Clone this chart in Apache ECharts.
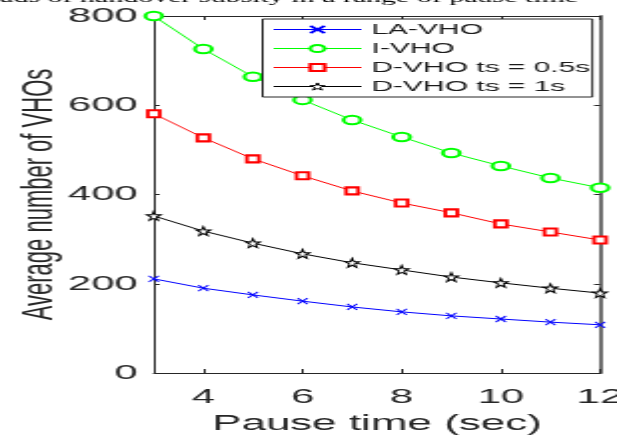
<!DOCTYPE html>
<html>
<head>
<meta charset="utf-8">
<script src="https://cdn.jsdelivr.net/npm/echarts@6/dist/echarts.min.js"></script>
<style>
  html, body { margin: 0; padding: 0; overflow: hidden; background: #fff; }
  /* the source figure is stretched 2x horizontally, so draw at half width and stretch */
  #chart { width: 309px; height: 438px; transform: scaleX(1.9968); transform-origin: 0 0; }
</style>
</head>
<body>
<div id="chart"></div>
<script>
const pauseTime = [3, 4, 5, 6, 7, 8, 9, 10, 11, 12];
const xTicks = [4, 6, 8, 10, 12];
const laVho = [211, 190, 175, 161, 148, 137, 128, 121, 114, 108];
const iVho = [800, 726, 664, 612, 567, 529, 493, 464, 437, 415];
const dVho05 = [581, 527, 480, 442, 408, 381, 359, 334, 316, 298];
const dVho1 = [352, 318, 291, 267, 247, 231, 215, 202, 190, 179];

const crossPath = 'path://M0,0L10,10M10,0L0,10';
const starPath = 'path://M10,0L12.35,6.76L19.51,6.91L13.8,11.24L15.88,18.09L10,14L4.12,18.09L6.2,11.24L0.49,6.91L7.65,6.76Z';
const axisColor = '#262626';

function pairs(ys) {
  return pauseTime.map((x, i) => [x, ys[i]]);
}

const chart = echarts.init(document.getElementById('chart'));
chart.setOption({
  animation: false,
  textStyle: { fontFamily: 'Liberation Sans, Arial, sans-serif' },
  graphic: [{
    type: 'text',
    left: 0,
    top: -9,
    style: {
      text: 'ads of handover subsity in a range of pause time',
      font: '15px "Liberation Serif", serif',
      fill: '#000'
    }
  }],
  grid: { left: 77, right: 8.5, top: 16, bottom: 65, outerBoundsMode: 'none' },
  legend: {
    orient: 'vertical',
    left: 131.5,
    top: 19,
    itemWidth: 44,
    itemHeight: 9,
    itemGap: 0,
    padding: [1, 1, 1, 5],
    backgroundColor: '#fff',
    borderColor: axisColor,
    borderWidth: 1,
    lineStyle: { width: 1 },
    textStyle: { fontSize: 15, color: '#1a1a1a', lineHeight: 19 },
    data: [
      { name: 'LA-VHO' },
      { name: 'I-VHO' },
      { name: 'D-VHO ts = 0.5s' },
      { name: 'D-VHO ts = 1s', itemStyle: { color: '#fff', borderColor: '#000', borderWidth: 1 } }
    ]
  },
  xAxis: [{
    type: 'value',
    min: 3,
    max: 12,
    name: 'Pause time (sec)',
    nameLocation: 'middle',
    nameGap: 32,
    nameTextStyle: { fontSize: 22, color: axisColor },
    axisLine: { show: true, lineStyle: { color: axisColor, width: 1 } },
    axisTick: { show: true, inside: true, length: 4, customValues: xTicks, lineStyle: { color: axisColor } },
    axisLabel: { fontSize: 21, color: axisColor, margin: 14, customValues: xTicks },
    splitLine: { show: false }
  }, {
    type: 'value',
    position: 'top',
    min: 3,
    max: 12,
    axisLine: { show: true, onZero: false, lineStyle: { color: axisColor, width: 1 } },
    axisTick: { show: true, inside: true, length: 4, customValues: xTicks, lineStyle: { color: axisColor } },
    axisLabel: { show: false },
    splitLine: { show: false }
  }],
  yAxis: [{
    type: 'value',
    min: 0,
    max: 800,
    interval: 200,
    name: 'Average number of VHOs',
    nameLocation: 'middle',
    nameRotate: 90,
    nameGap: 46.5,
    nameMoveOverlap: false,
    nameTextStyle: { fontSize: 22, color: axisColor },
    axisLine: { show: true, lineStyle: { color: axisColor, width: 1 } },
    axisTick: { show: true, inside: true, length: 3, lineStyle: { color: axisColor } },
    axisLabel: { fontSize: 21, color: axisColor, margin: 8 },
    splitLine: { show: false }
  }, {
    type: 'value',
    position: 'right',
    min: 0,
    max: 800,
    interval: 200,
    axisLine: { show: true, onZero: false, lineStyle: { color: '#6e6e6e', width: 2 } },
    axisTick: { show: true, inside: true, length: 3, lineStyle: { color: axisColor } },
    axisLabel: { show: false },
    splitLine: { show: false }
  }],
  series: [{
    name: 'LA-VHO',
    type: 'line',
    data: pairs(laVho),
    symbol: crossPath,
    symbolSize: [5, 6],
    lineStyle: { color: '#0000ff', width: 1 },
    itemStyle: { color: '#0000ff', borderColor: '#0000ff', borderWidth: 1 },
    z: 5
  }, {
    name: 'I-VHO',
    type: 'line',
    data: pairs(iVho),
    symbol: 'emptyCircle',
    symbolSize: 8.5,
    lineStyle: { color: '#00ff00', width: 1 },
    itemStyle: { color: '#00ff00', borderColor: '#00ff00', borderWidth: 1 },
    z: 2
  }, {
    name: 'D-VHO ts = 0.5s',
    type: 'line',
    data: pairs(dVho05),
    symbol: 'emptyRect',
    symbolSize: [6, 7],
    lineStyle: { color: '#ff0000', width: 1 },
    itemStyle: { color: '#ff0000', borderColor: '#ff0000', borderWidth: 1 },
    z: 3
  }, {
    name: 'D-VHO ts = 1s',
    type: 'line',
    data: pairs(dVho1),
    symbol: starPath,
    symbolSize: [7, 9],
    lineStyle: { color: '#000000', width: 1 },
    itemStyle: { color: '#ffffff', borderColor: '#000000', borderWidth: 1 },
    z: 4
  }]
});
</script>
</body>
</html>
